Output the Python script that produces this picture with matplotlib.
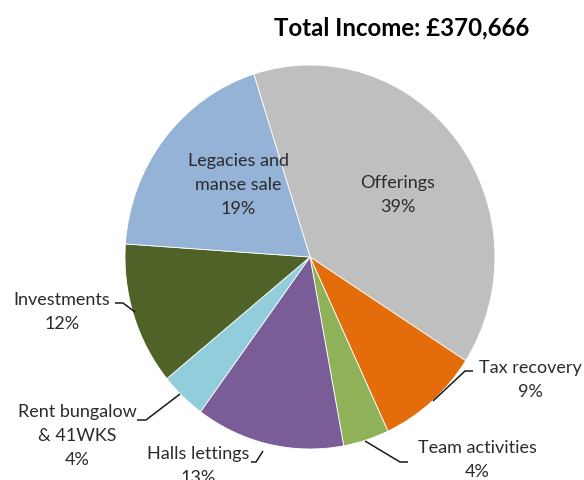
import numpy as np
import matplotlib
matplotlib.use("Agg")
import matplotlib.pyplot as plt

plt.rcParams['font.family'] = ['Lato', 'DejaVu Sans']

title = "Total Income: £370,666"
categories = ["Offerings", "Tax recovery", "Team activities", "Halls lettings",
              "Rent bungalow\n& 41WKS", "Investments", "Legacies and\nmanse sale"]
shares = [39, 9, 4, 13, 4, 12, 19]
colors = ["#BFBFBF", "#E46C0A", "#8FB158", "#7A5C96", "#92CDDC", "#4F6228", "#95B3D7"]

W, H = 584, 481
CX, CY, RX, RY = 310, 258, 185, 192   # pie centre / radii in pixels (layout)

def px(x, y):
    return ((x - CX) / RX, (CY - y) / RY)

fig = plt.figure(figsize=(W / 100, H / 100), dpi=100)
ax = fig.add_axes([0, 0, 1, 1])
wedges, _ = ax.pie(shares, colors=colors, startangle=107.7, counterclock=False,
                   radius=1.0, center=(0, 0),
                   wedgeprops=dict(linewidth=0.6, edgecolor="white"))
ax.set_aspect('auto')
ax.set_xlim(-CX / RX, (W - CX) / RX)
ax.set_ylim((CY - H) / RY, CY / RY)
ax.axis('off')

txt_color = "#2b2b2b"
fs = 13
ls = 1.6
layout = {
    0: dict(inside=(398, 195)),
    1: dict(text=(530, 380), line=[(433, 402), (465, 372), (473, 372)]),
    2: dict(text=(477, 460), line=[(365, 442), (400, 463), (408, 463)]),
    3: dict(text=(198, 466), line=[(263, 452), (256, 463), (251, 463)]),
    4: dict(text=(77, 436), line=[(180, 395), (146, 421), (137, 421)]),
    5: dict(text=(62, 312), line=[(135, 313), (123, 304), (115, 304)]),
    6: dict(inside=(238, 185)),
}

for i, w in enumerate(wedges):
    lab = f"{categories[i]}\n{shares[i]}%"
    L = layout[i]
    if 'inside' in L:
        ax.text(*px(*L['inside']), lab, ha='center', va='center', fontsize=fs,
                color=txt_color, linespacing=ls)
    else:
        pts = [px(*p) for p in L['line']]
        ax.plot([p[0] for p in pts], [p[1] for p in pts],
                color="#1a1a1a", linewidth=1.1, solid_capstyle='butt')
        ax.text(*px(*L['text']), lab, ha='center', va='center', fontsize=fs,
                color=txt_color, linespacing=ls)

fig.text(402 / W, 1 - 28 / H, title, ha='center', va='center',
         fontsize=17.3, fontweight='bold', color='black')

fig.savefig("out.png", dpi=100)
